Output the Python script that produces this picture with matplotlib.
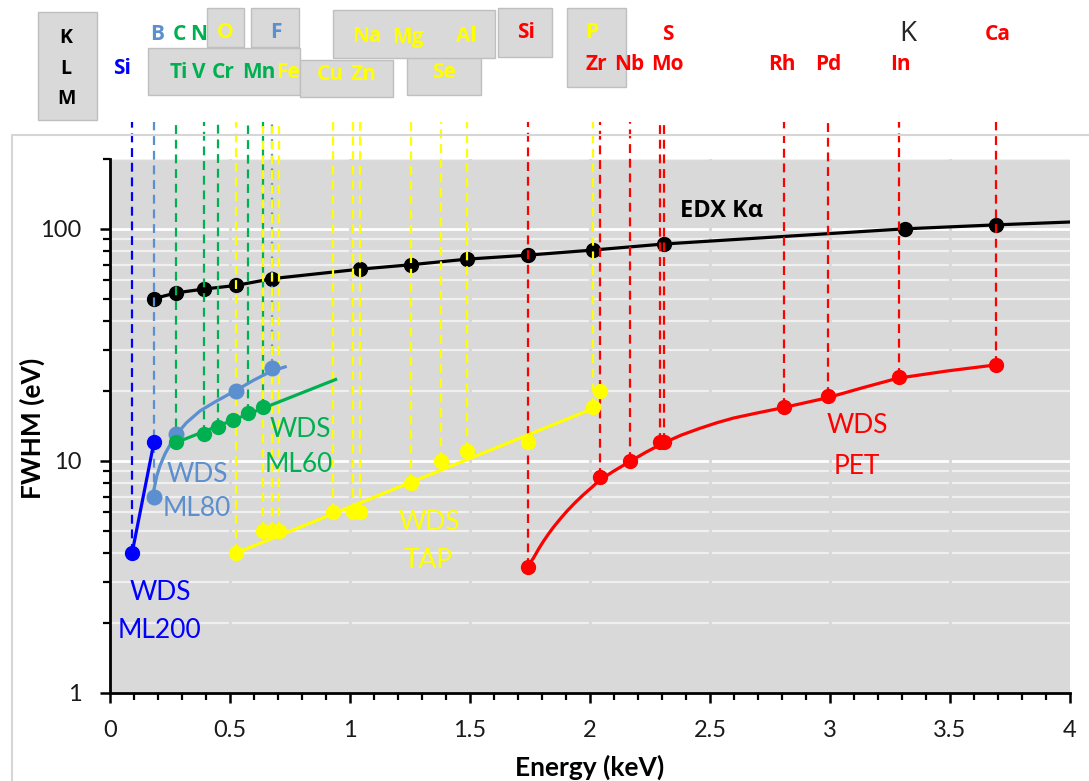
import matplotlib
matplotlib.use('Agg')
import matplotlib.pyplot as plt
from matplotlib.patches import Rectangle
from matplotlib.ticker import MultipleLocator, FixedLocator, LogLocator, NullFormatter, FuncFormatter

W, H = 1089, 781

# EDX K-alpha resolution
edx_energy = [0.183, 0.277, 0.392, 0.525, 0.677, 1.041, 1.254, 1.487, 1.740, 2.013, 2.307, 3.313, 3.691]
edx_fwhm = [50, 53, 55, 57, 61, 67, 70, 74, 77, 81, 86, 100, 104]
edx_curve_energy = edx_energy + [4.0]
edx_curve_fwhm = edx_fwhm + [107]

# WDS ML200
ml200_energy = [0.092, 0.183]
ml200_fwhm = [4, 12]
ml200_guide = [True, False]

# WDS ML80
ml80_energy = [0.183, 0.277, 0.525, 0.677]
ml80_fwhm = [7, 13, 20, 25]
ml80_guide = [True, False, False, True]
ml80_curve_energy = [0.18, 0.183, 0.195, 0.208, 0.229, 0.271, 0.319, 0.375, 0.444, 0.521, 0.597, 0.674, 0.73]
ml80_curve_fwhm = [7.0, 7.5, 8.6, 9.5, 10.7, 12.8, 14.6, 16.4, 18.1, 20.0, 22.2, 24.4, 25.4]

# WDS ML60
ml60_energy = [0.277, 0.392, 0.452, 0.511, 0.573, 0.637]
ml60_fwhm = [12, 13, 14, 15, 16, 17]
ml60_guide = [True, True, True, False, True, True]
ml60_trend_energy = [0.277, 0.94]
ml60_trend_fwhm = [12, 22.4]

# WDS TAP
tap_energy = [0.525, 0.637, 0.677, 0.705, 0.930, 1.012, 1.041, 1.254, 1.379, 1.487, 1.740, 2.013, 2.042]
tap_fwhm = [4, 5, 5, 5, 6, 6, 6, 8, 10, 11, 12, 17, 20]
tap_guide = [True, True, True, True, True, True, True, True, True, True, False, True, False]
tap_trend_energy = [0.525, 2.013]
tap_trend_fwhm = [4, 16.8]

# WDS PET
pet_energy = [1.740, 2.042, 2.166, 2.293, 2.307, 2.81, 2.99, 3.287, 3.691]
pet_fwhm = [3.5, 8.5, 10, 12, 12, 17, 19, 23, 26]
pet_guide = [True] * 9
pet_curve_energy = [1.740, 1.764, 1.785, 1.805, 1.826, 1.847, 1.875, 1.903, 1.938, 1.972, 2.007,
                    2.037, 2.097, 2.164, 2.234, 2.304, 2.38, 2.458, 2.53, 2.6, 2.7, 2.8, 2.99,
                    3.14, 3.283, 3.49, 3.691]
pet_curve_fwhm = [3.5, 3.8, 4.15, 4.48, 4.82, 5.16, 5.6, 6.05, 6.6, 7.13, 7.67,
                  8.2, 9.0, 9.9, 10.9, 11.9, 12.9, 13.8, 14.6, 15.3, 16.1, 16.9, 18.7,
                  20.7, 22.7, 24.4, 25.9]

BLUE = '#0000ff'
STEEL = '#5b8fd0'
GREEN = '#00b050'
YELLOW = '#ffff00'
RED = '#ff0000'
BG = '#d9d9d9'

# element labels above the chart: text, x px, y px, colour
row_labels = [
    ('B', 157, 35, STEEL), ('C', 179, 35, GREEN), ('N', 199, 35, GREEN),
    ('O', 225, 33, YELLOW), ('F', 276, 33, STEEL),
    ('Na', 367, 37, YELLOW), ('Mg', 408, 37, YELLOW), ('Al', 466, 36, YELLOW),
    ('Si', 526, 33, RED), ('P', 592, 33, YELLOW), ('S', 668, 34, RED), ('Ca', 998, 34, RED),
    ('Si', 122, 68, BLUE), ('Ti', 179, 73, GREEN), ('V', 199, 73, GREEN),
    ('Cr', 223, 73, GREEN), ('Mn', 259, 73, GREEN), ('Fe', 288, 73, YELLOW),
    ('Cu', 330, 74, YELLOW), ('Zn', 363, 74, YELLOW), ('Se', 444, 72, YELLOW),
    ('Zr', 596, 64, RED), ('Nb', 629, 65, RED), ('Mo', 667, 64, RED),
    ('Rh', 782, 65, RED), ('Pd', 828, 65, RED), ('In', 900, 65, RED),
]
# grey label boxes: x0, y0, x1, y1 in px
label_boxes = [
    (38, 12, 97, 120), (148, 48, 300, 95), (300, 60, 393, 97), (407, 50, 481, 95),
    (207, 8, 244, 47), (251, 8, 299, 47), (333, 10, 495, 58),
    (498, 8, 552, 57), (567, 8, 626, 87),
]


def fx(x):
    return x / W


def fy(y):
    return 1 - y / H


fig = plt.figure(figsize=(W / 100, H / 100), dpi=100)

# chart frame
fig.patches.append(Rectangle((fx(12), -0.05), 1.0, fy(135) + 0.05, transform=fig.transFigure,
                             fill=False, ec='#d6d6d6', lw=1.5))

for x0, y0, x1, y1 in label_boxes:
    fig.patches.append(Rectangle((fx(x0), fy(y1)), (x1 - x0) / W, (y1 - y0) / H,
                                 transform=fig.transFigure, fc=BG, ec='#bfbfbf', lw=1))

for s, x, y in [('K', 66, 38), ('L', 66, 69), ('M', 66, 99)]:
    fig.text(fx(x), fy(y), s, ha='center', va='center', fontsize=14, fontweight='bold',
             family=['Open Sans', 'DejaVu Sans'], color='black')
for s, x, y, c in row_labels:
    fig.text(fx(x), fy(y), s, ha='center', va='center', fontsize=15, fontweight='bold',
             family=['Open Sans', 'DejaVu Sans'], color=c)
fig.text(fx(908), fy(34), 'K', ha='center', va='center', fontsize=20,
         family=['Open Sans', 'DejaVu Sans'], color='#262626')

ax = fig.add_axes([fx(110), fy(692.7), (1070 - 110) / W, (692.7 - 159) / H])
ax.set_facecolor(BG)
ax.set_yscale('log')
ax.set_xlim(0, 4)
ax.set_ylim(1, 200)
ax.set_axisbelow(True)

ax.xaxis.set_major_locator(MultipleLocator(0.5))
ax.xaxis.set_minor_locator(MultipleLocator(0.1))
ax.xaxis.set_major_formatter(FuncFormatter(lambda v, p: '%g' % v))
ax.yaxis.set_major_locator(FixedLocator([1, 10, 100]))
ax.yaxis.set_minor_locator(LogLocator(base=10, subs=range(2, 10)))
ax.yaxis.set_major_formatter(FuncFormatter(lambda v, p: '%g' % v))
ax.yaxis.set_minor_formatter(NullFormatter())

ax.grid(axis='y', which='major', color='white', lw=2)
ax.grid(axis='y', which='minor', color='#f0f0f0', lw=1.6)
for xv in [0.5, 1.0, 1.5, 2.0, 2.5, 3.0, 3.5]:
    ax.axvline(xv, color=BG, lw=2.2, zorder=0.6)

for sp in ['top', 'right']:
    ax.spines[sp].set_visible(False)
for sp in ['left', 'bottom']:
    ax.spines[sp].set_linewidth(2)
    ax.spines[sp].set_color('black')
ax.tick_params(which='major', direction='out', length=7.5, width=1.8, pad=13,
               labelsize=17, colors='black')
ax.tick_params(axis='x', which='major', pad=12)
ax.tick_params(which='minor', direction='out', length=5, width=1.6, colors='black')
for lab in ax.get_xticklabels() + ax.get_yticklabels():
    lab.set_family(['Lato', 'DejaVu Sans'])
    lab.set_color('#1a1a1a')

TOP = 290
DASH = (0, (4, 2.6))


def guides(energy, fwhm, mask, color):
    xs = [e for e, m in zip(energy, mask) if m]
    ys = [f for f, m in zip(fwhm, mask) if m]
    ax.vlines(xs, ys, TOP, colors=color, linestyles=DASH, lw=1.6, zorder=5, clip_on=False)


# EDX curve
ax.plot(edx_curve_energy, edx_curve_fwhm, color='black', lw=2.3, zorder=3, solid_capstyle='round')
ax.plot(edx_energy, edx_fwhm, 'o', color='black', ms=10, zorder=4)

guides(ml200_energy, ml200_fwhm, ml200_guide, BLUE)
guides(ml80_energy, ml80_fwhm, ml80_guide, STEEL)
guides(ml60_energy, ml60_fwhm, ml60_guide, GREEN)
guides(tap_energy, tap_fwhm, tap_guide, YELLOW)
guides(pet_energy, pet_fwhm, pet_guide, RED)

ax.plot(ml200_energy, ml200_fwhm, color=BLUE, lw=2.3, zorder=6)
ax.plot(ml200_energy, ml200_fwhm, 'o', color=BLUE, ms=10, zorder=7)

ax.plot(ml80_curve_energy, ml80_curve_fwhm, color=STEEL, lw=2.3, zorder=6, solid_joinstyle='round')
ax.plot(ml80_energy, ml80_fwhm, 'o', color=STEEL, ms=10.5, zorder=7)

ax.plot(ml60_trend_energy, ml60_trend_fwhm, color=GREEN, lw=2.3, zorder=6)
ax.plot(ml60_energy, ml60_fwhm, 'o', color=GREEN, ms=10, zorder=7)

ax.plot(tap_trend_energy, tap_trend_fwhm, color=YELLOW, lw=2.3, zorder=6)
ax.plot(tap_energy, tap_fwhm, 'o', color=YELLOW, ms=10, zorder=7)

ax.plot(pet_curve_energy, pet_curve_fwhm, color=RED, lw=2.3, zorder=6, solid_joinstyle='round')
ax.plot(pet_energy, pet_fwhm, 'o', color=RED, ms=10, zorder=7)

# series labels
series_labels = [
    ('WDS', 160, 593, BLUE), ('ML200', 159, 630, BLUE),
    ('WDS', 197, 474, STEEL), ('ML80', 197, 509, STEEL),
    ('WDS', 300, 429, GREEN), ('ML60', 299, 465, GREEN),
    ('WDS', 429, 522, YELLOW), ('TAP', 428, 560, YELLOW),
    ('WDS', 857, 425, RED), ('PET', 857, 467, RED),
]
for s, x, y, c in series_labels:
    fig.text(fx(x), fy(y), s, ha='center', va='center', fontsize=19,
             family=['Lato', 'DejaVu Sans'], color=c)
fig.text(fx(680), fy(211), 'EDX K\u03b1', ha='left', va='center', fontsize=17, fontweight='bold',
         family=['Open Sans', 'DejaVu Sans'], color='black')

fig.text(fx(32), fy(428), 'FWHM (eV)', rotation=90, ha='center', va='center', fontsize=19,
         fontweight='bold', family=['Lato', 'DejaVu Sans'], color='black')
fig.text(fx(590), fy(767), 'Energy (keV)', ha='center', va='center', fontsize=19,
         fontweight='bold', family=['Lato', 'DejaVu Sans'], color='black')

fig.savefig('out.png', dpi=100)
